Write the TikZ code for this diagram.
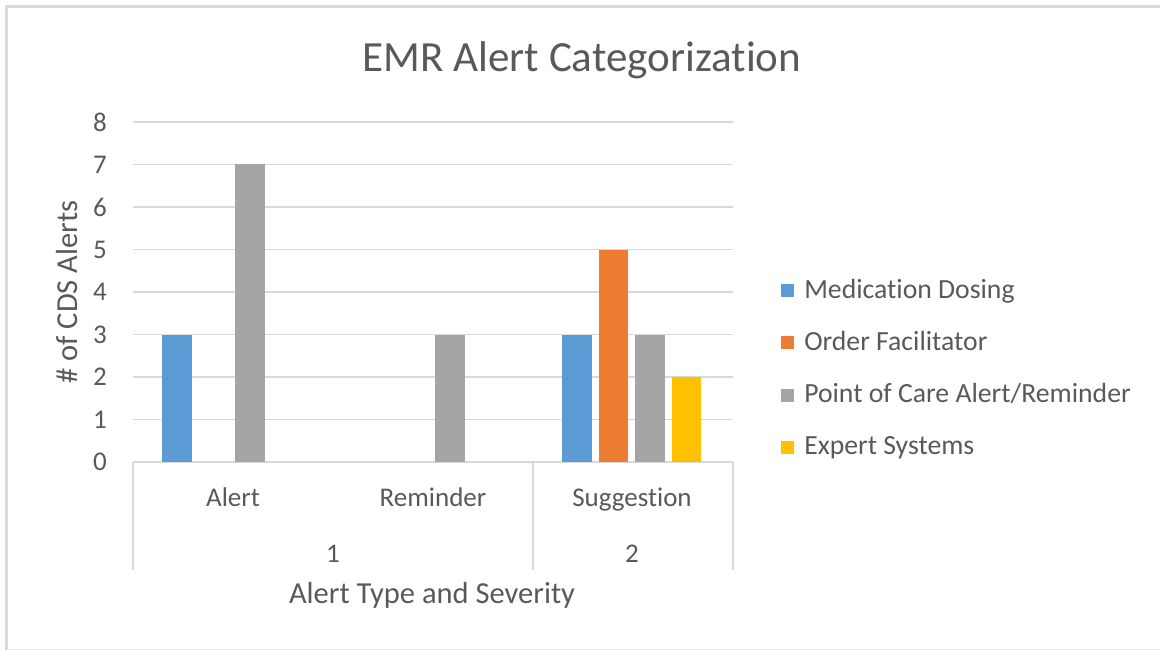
\documentclass[tikz,border=0pt]{standalone}
\usepackage{fontspec}
\setmainfont[Ligatures=NoCommon]{Carlito}
\definecolor{medblue}{HTML}{5B9BD5}
\definecolor{ordorange}{HTML}{ED7D31}
\definecolor{pocgray}{HTML}{A5A5A5}
\definecolor{expyellow}{HTML}{FFC000}
\definecolor{txtgray}{HTML}{595959}
\definecolor{gridgray}{HTML}{D9D9D9}
\definecolor{framegray}{HTML}{DADADA}
\tikzset{
  ticklabel/.style={text=txtgray, inner sep=0pt, font=\fontsize{19.2}{23}\selectfont},
  legendlabel/.style={text=txtgray, inner sep=0pt, font=\fontsize{19.7}{23}\selectfont},
  axistitle/.style={text=txtgray, inner sep=0pt, font=\fontsize{21.7}{26}\selectfont},
  charttitle/.style={text=txtgray, inner sep=0pt, font=\fontsize{30.6}{36}\selectfont},
  gridline/.style={draw=gridgray, line width=1.1pt},
}
\begin{document}
\begin{tikzpicture}[x=0.025cm, y=-0.025cm]
    \useasboundingbox (0,0) rectangle (1160,650);
    % chart frame
    \draw[framegray, line width=2.2pt] (6.5,650) -- (6.5,6.5) -- (1160,6.5);
    \draw[gridgray!50, line width=0.6pt] (6.5,649) -- (1160,649);
    % gridlines and value labels
    \foreach \v in {0,...,8} {
        \draw[gridline] (133,{462-42.5*\v}) -- (733,{462-42.5*\v});
        \node[ticklabel, anchor=east] (ytick\v) at (107,{462-42.5*\v}) {\v};
    }
    % category separators
    \draw[gridline] (133,462) -- (133,570);
    \draw[gridline] (533,462) -- (533,570);
    \draw[gridline] (733,462) -- (733,570);
    % bars
    \fill[medblue] (162,462) rectangle (191.5,334.5);
    \fill[pocgray] (235,462) rectangle (264.5,164.5);
    \fill[pocgray] (435,462) rectangle (464.5,334.5);
    \fill[medblue] (562,462) rectangle (591.5,334.5);
    \fill[ordorange] (598.5,462) rectangle (628,249.5);
    \fill[pocgray] (635,462) rectangle (664.5,334.5);
    \fill[expyellow] (671.5,462) rectangle (701,377);
    % axis labels
    \node[ticklabel, anchor=base] (catalert) at (233,506) {Alert};
    \node[ticklabel, anchor=base] (catreminder) at (433,506) {Reminder};
    \node[ticklabel, anchor=base] (catsuggestion) at (632,506) {Suggestion};
    \node[ticklabel, anchor=base] (levelone) at (333,562) {1};
    \node[ticklabel, anchor=base] (leveltwo) at (632,562) {2};
    \node[axistitle, anchor=base] (xtitle) at (432,603) {Alert Type and Severity};
    \node[axistitle, rotate=90] (ytitle) at (67,292) {\# of CDS Alerts};
    \node[charttitle, anchor=base] (title) at (582,72) {EMR Alert Categorization};
    % legend
    \foreach \name/\col [count=\i] in {{Medication Dosing}/medblue, {Order Facilitator}/ordorange,
        {Point of Care Alert/Reminder}/pocgray, {Expert Systems}/expyellow} {
        \pgfmathsetmacro{\ybase}{298+52.3*(\i-1)}
        \fill[\col] (781,\ybase-14) rectangle (794,\ybase-1);
        \node[legendlabel, anchor=base west] (legend\i) at (804,\ybase) {\name};
    }
\end{tikzpicture}
\end{document}
